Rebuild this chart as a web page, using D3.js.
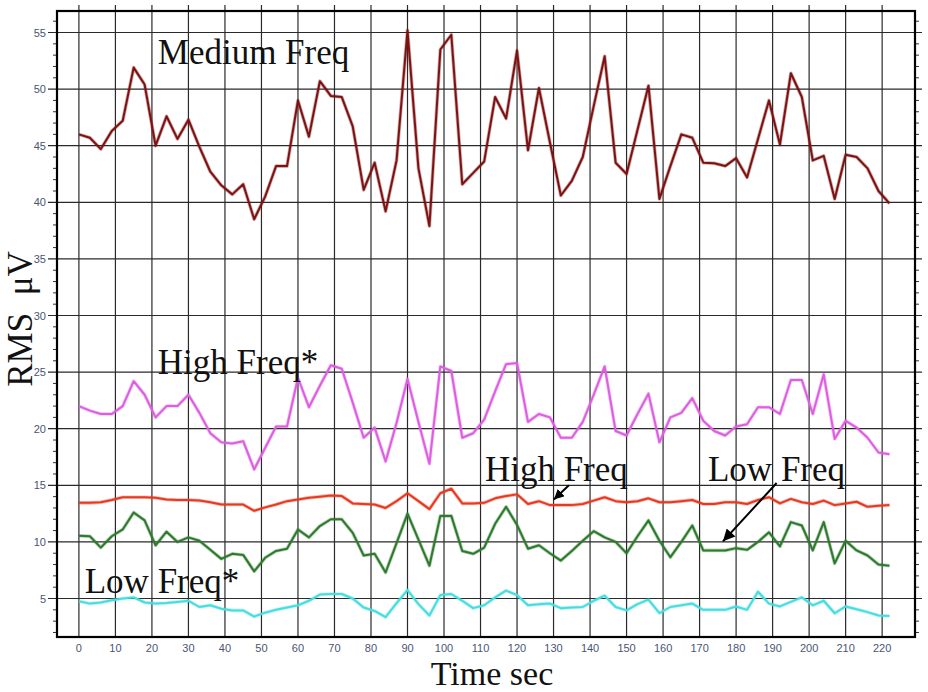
<!DOCTYPE html>
<html>
<head>
<meta charset="utf-8">
<script src="https://cdn.jsdelivr.net/npm/d3@7"></script>
<style>
  html, body { margin: 0; padding: 0; background: #fff; }
  svg { display: block; }
</style>
</head>
<body>
<svg id="chart" width="928" height="692"></svg>
<script>
// ---- data ----
const times = [0,3,6,9,12,15,18,21,24,27,30,33,36,39,42,45,48,51,54,57,60,63,66,69,72,75,78,81,84,87,
  90,93,96,99,102,105,108,111,114,117,120,123,126,129,132,135,138,141,144,147,150,153,156,159,162,165,168,171,174,177,
  180,183,186,189,192,195,198,201,204,207,210,213,216,219,222];

const mediumFreq = [46.0,45.7,44.7,46.3,47.2,51.9,50.4,45.0,47.6,45.6,
  47.3,44.9,42.7,41.5,40.7,41.6,38.5,40.5,43.2,43.2,
  49.0,45.8,50.7,49.4,49.3,46.7,41.1,43.5,39.2,43.7,
  55.2,43.0,37.9,53.5,54.8,41.6,42.6,43.6,49.3,47.4,
  53.4,44.6,50.1,45.3,40.6,41.9,44.0,48.5,52.9,43.5,
  42.5,46.4,50.3,40.3,43.2,46.0,45.7,43.5,43.45,43.2,
  43.9,42.2,45.6,49.0,45.1,51.4,49.3,43.7,44.1,40.3,
  44.2,44.0,43.0,41.0,39.9];

const highFreqStar = [22.0,21.6,21.3,21.3,22.0,24.2,23.0,21.0,22.0,22.0,
  23.0,21.4,19.6,18.8,18.7,18.9,16.4,18.3,20.2,20.2,
  24.5,21.9,23.8,25.6,25.3,22.3,19.2,20.1,17.1,20.5,
  24.4,20.6,16.9,25.5,25.1,19.2,19.6,20.8,23.3,25.7,
  25.8,20.6,21.3,21.0,19.2,19.2,20.6,23.0,25.5,19.8,
  19.4,21.3,23.1,18.8,21.0,21.4,22.7,20.7,19.8,19.4,
  20.2,20.4,21.9,21.9,21.3,24.3,24.3,21.3,24.8,19.1,
  20.7,20.1,19.2,17.9,17.75];

const highFreq = [13.45,13.45,13.5,13.7,13.95,13.95,13.95,13.9,13.75,13.7,
  13.7,13.65,13.5,13.3,13.3,13.3,12.75,13.05,13.3,13.6,
  13.75,13.9,14.0,14.1,14.05,13.4,13.35,13.3,13.0,13.6,
  14.3,13.6,12.9,14.3,14.7,13.4,13.4,13.45,13.85,14.05,
  14.2,13.35,13.6,13.25,13.25,13.25,13.35,13.65,13.95,13.6,
  13.5,13.6,13.85,13.5,13.5,13.6,13.7,13.35,13.35,13.5,
  13.5,13.35,13.7,13.95,13.4,13.8,13.5,13.35,13.65,13.25,
  13.4,13.55,13.1,13.2,13.25];

const lowFreq = [10.55,10.5,9.5,10.5,11.1,12.6,11.9,9.7,10.9,10.0,
  10.4,10.1,9.3,8.5,8.95,8.85,7.4,8.6,9.2,9.4,
  11.1,10.4,11.4,12.0,12.0,10.8,8.8,8.95,7.3,9.9,
  12.5,10.2,7.9,12.3,12.3,9.2,8.95,9.5,11.6,13.1,
  11.5,9.4,9.7,9.0,8.35,9.2,10.1,10.95,10.4,10.0,
  9.0,10.5,11.9,10.1,8.65,10.0,11.45,9.25,9.25,9.25,
  9.45,9.3,10.0,10.85,9.6,11.75,11.45,9.25,11.75,8.1,
  10.1,9.25,8.8,8.0,7.9];

const lowFreqStar = [4.75,4.55,4.65,4.85,5.0,5.1,4.65,4.55,4.6,4.7,
  4.8,4.25,4.4,4.1,3.95,3.95,3.4,3.75,4.0,4.2,
  4.4,4.8,5.35,5.4,5.4,5.0,4.2,3.9,3.35,4.6,
  5.75,4.5,3.5,5.3,5.4,4.8,4.15,4.4,5.1,5.7,
  5.3,4.4,4.5,4.55,4.15,4.2,4.25,4.8,5.25,4.25,
  3.95,4.5,4.9,3.7,4.25,4.4,4.55,4.0,4.0,4.0,
  4.3,4.0,5.6,4.55,4.3,4.7,5.1,4.4,4.8,3.7,
  4.3,4.05,3.8,3.5,3.45];

const xTicks = [0,10,20,30,40,50,60,70,80,90,100,110,120,130,140,150,160,170,180,190,200,210,220];
const yTicks = [5,10,15,20,25,30,35,40,45,50,55];

const seriesNames = ["Medium Freq","High Freq*","High Freq","Low Freq","Low Freq*"];
const seriesValues = [mediumFreq, highFreqStar, highFreq, lowFreq, lowFreqStar];
const seriesColors = ["#7d1212","#dd5ee0","#e8381f","#2d7a2d","#45dde0"];

// labels anchored in data space
const labelTexts = ["Medium Freq","High Freq*","High Freq","Low Freq","Low Freq*"];
const labelT = [21.6, 21.6, 111.2, 172.3, 1.6];
const labelV = [52.2, 24.8, 15.4, 15.4, 5.5];
// arrows: tail (t,v) -> tip (t,v)
const arrowTail = [[134.2, 15.0],[191.1, 15.2]];
const arrowTip  = [[130.1, 13.75],[176.4, 10.05]];

// ---- drawing ----
const svg = d3.select("#chart");
const L = 57, R = 915, T = 11, B = 637;
const x = d3.scaleLinear().domain([-6, 229]).range([L, R]);
const y = d3.scaleLinear().domain([1.6, 56.9]).range([B, T]);

const defs = svg.append("defs");
defs.append("marker").attr("id","ah1").attr("viewBox","0 0 10 10")
  .attr("refX",10).attr("refY",5).attr("markerWidth",5).attr("markerHeight",5)
  .attr("orient","auto").attr("markerUnits","strokeWidth")
  .append("path").attr("d","M0,0 L10,5 L0,10 z").attr("fill","#000");
defs.append("marker").attr("id","ah2").attr("viewBox","0 0 10 10")
  .attr("refX",10).attr("refY",5).attr("markerWidth",7).attr("markerHeight",6)
  .attr("orient","auto").attr("markerUnits","strokeWidth")
  .append("path").attr("d","M0,0 L10,5 L0,10 z").attr("fill","#000");

// grid
const grid = svg.append("g").attr("stroke","#2a2a2a").attr("stroke-width",1.2);
grid.selectAll("line.v").data(xTicks).join("line").attr("class","v")
  .attr("x1", d => x(d)).attr("x2", d => x(d)).attr("y1", T - 6).attr("y2", B);
grid.selectAll("line.h").data(yTicks).join("line").attr("class","h")
  .attr("x1", L - 9).attr("x2", R + 7).attr("y1", d => y(d)).attr("y2", d => y(d));

// minor ticks
const minor = d3.range(2, 57).filter(d => d % 5 !== 0);
const mt = svg.append("g").attr("stroke","#333").attr("stroke-width",1);
mt.selectAll("line.ml").data(minor).join("line").attr("class","ml")
  .attr("x1", L - 4).attr("x2", L).attr("y1", d => y(d)).attr("y2", d => y(d));
mt.selectAll("line.mr").data(minor).join("line").attr("class","mr")
  .attr("x1", R).attr("x2", R + 4).attr("y1", d => y(d)).attr("y2", d => y(d));

// frame
svg.append("rect").attr("x", L).attr("y", T).attr("width", R - L).attr("height", B - T)
  .attr("fill","none").attr("stroke","#000").attr("stroke-width",2.2);

// tick labels
svg.append("g").selectAll("text").data(xTicks).join("text")
  .attr("x", d => x(d)).attr("y", 652).attr("text-anchor","middle")
  .attr("font-family","Liberation Sans, Arial, sans-serif").attr("font-size",11)
  .attr("fill","#4a5572").text(d => d);
svg.append("g").selectAll("text").data(yTicks).join("text")
  .attr("x", 46).attr("y", d => y(d) + 4).attr("text-anchor","end")
  .attr("font-family","Liberation Sans, Arial, sans-serif").attr("font-size",11)
  .attr("fill","#4a5572").text(d => d);

// series
const line = d3.line().x((d, i) => x(times[i])).y(d => y(d));
const sg = svg.append("g").attr("fill","none").attr("stroke-linejoin","round");
seriesValues.forEach((vals, k) => {
  sg.append("path").datum(vals).attr("d", line)
    .attr("stroke", seriesColors[k]).attr("stroke-opacity", 0.35).attr("stroke-width", 3.6);
  sg.append("path").datum(vals).attr("d", line)
    .attr("stroke", seriesColors[k]).attr("stroke-width", 2).attr("data-name", seriesNames[k]);
});

// labels
svg.append("g").selectAll("text").data(labelTexts).join("text")
  .attr("x", (d, i) => x(labelT[i])).attr("y", (d, i) => y(labelV[i]))
  .attr("font-family","Liberation Serif, Times New Roman, serif").attr("font-size",35)
  .attr("fill","#111").text(d => d);

// arrows
svg.append("line")
  .attr("x1", x(arrowTail[0][0])).attr("y1", y(arrowTail[0][1]))
  .attr("x2", x(arrowTip[0][0])).attr("y2", y(arrowTip[0][1]))
  .attr("stroke","#000").attr("stroke-width",2).attr("marker-end","url(#ah1)");
svg.append("line")
  .attr("x1", x(arrowTail[1][0])).attr("y1", y(arrowTail[1][1]))
  .attr("x2", x(arrowTip[1][0])).attr("y2", y(arrowTip[1][1]))
  .attr("stroke","#000").attr("stroke-width",2).attr("marker-end","url(#ah2)");

// axis titles
svg.append("text").attr("x", 492).attr("y", 684.5).attr("text-anchor","middle")
  .attr("font-family","Liberation Serif, Times New Roman, serif").attr("font-size",34)
  .attr("fill","#111").text("Time sec");
svg.append("text").attr("transform","translate(32,319) rotate(-90)").attr("text-anchor","middle")
  .attr("font-family","Liberation Serif, Times New Roman, serif").attr("font-size",35)
  .attr("fill","#111").attr("xml:space","preserve").text("RMS  μV");
</script>
</body>
</html>
